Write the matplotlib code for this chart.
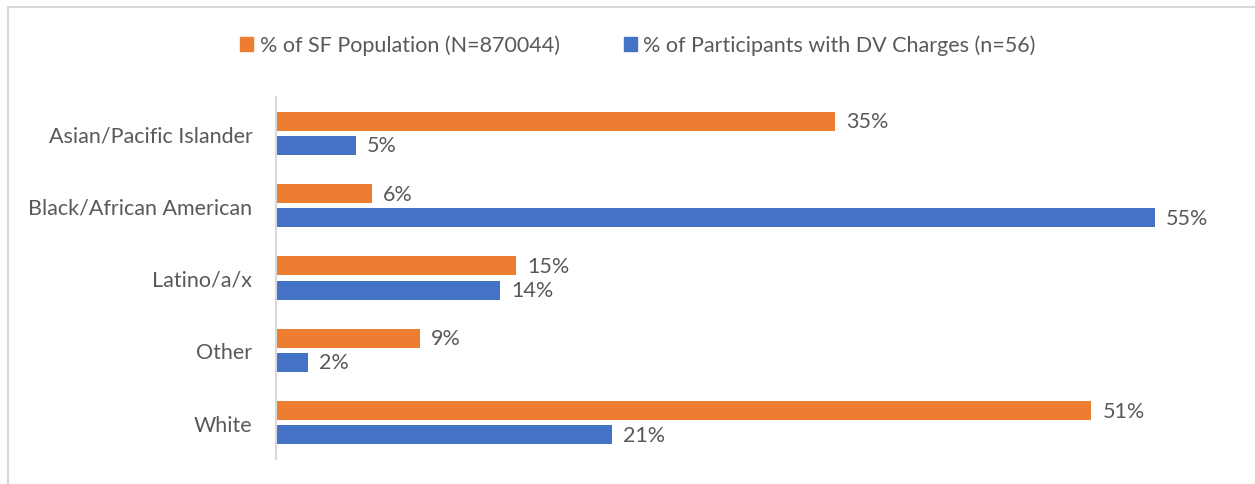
import matplotlib.pyplot as plt
import numpy as np
from matplotlib.patches import Rectangle, Patch

categories = ["Asian/Pacific Islander", "Black/African American", "Latino/a/x", "Other", "White"]
sf_population = [35, 6, 15, 9, 51]
dv_participants = [5, 55, 14, 2, 21]
series_labels = ["% of SF Population (N=870044)", "% of Participants with DV Charges (n=56)"]

ORANGE = "#ED7D31"
BLUE = "#4472C4"
TEXT = "#595959"
GRID = "#D9D9D9"
FS = 15.5

plt.rcParams["font.family"] = ["Lato", "DejaVu Sans"]

W, H = 1255, 485
fig = plt.figure(figsize=(W / 100, H / 100), dpi=100)

# outer chart frame
fig.patches.append(Rectangle((7.5 / W, -0.2), 2, 1.2 - 7.5 / H, transform=fig.transFigure,
                             fill=False, edgecolor=GRID, linewidth=1.5))

ax = fig.add_axes([276 / W, 25 / H, (1235 - 276) / W, (460 - 98) / H])

y = np.arange(len(categories))
h = 0.262
off = 0.166
ax.barh(y - off, sf_population, height=h, color=ORANGE)
ax.barh(y + off, dv_participants, height=h, color=BLUE)

for yi, v in zip(y - off, sf_population):
    ax.text(v + 0.7, yi, f"{v}%", va="center", ha="left", fontsize=FS, color=TEXT)
for yi, v in zip(y + off, dv_participants):
    ax.text(v + 0.7, yi, f"{v}%", va="center", ha="left", fontsize=FS, color=TEXT)

ax.set_xlim(0, 60)
ax.set_ylim(len(categories) - 0.5, -0.5)
ax.set_yticks(y)
ax.set_yticklabels(categories, fontsize=FS, color=TEXT)
ax.tick_params(axis="y", length=0, pad=17)
ax.set_xticks([])
for s in ["top", "right", "bottom"]:
    ax.spines[s].set_visible(False)
ax.spines["left"].set_color(GRID)
ax.spines["left"].set_linewidth(1.5)

handles = [Patch(color=ORANGE), Patch(color=BLUE)]
fig.legend(handles, series_labels, loc="center", bbox_to_anchor=(638 / W, 1 - 46 / H),
           ncol=2, frameon=False, fontsize=FS, labelcolor=TEXT,
           handlelength=0.6, handleheight=0.6, handletextpad=0.3, columnspacing=3.0)

fig.savefig("out.png", dpi=100, facecolor="white")
